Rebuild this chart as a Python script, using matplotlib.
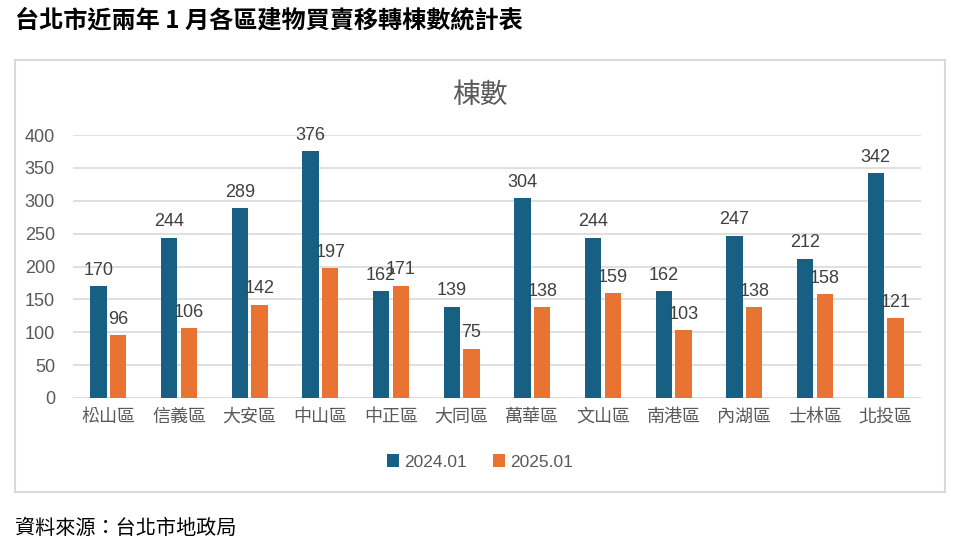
import numpy as np
import matplotlib.pyplot as plt
from matplotlib.patches import Rectangle

plt.rcParams['font.family'] = ['Noto Sans CJK TC', 'DejaVu Sans']

# 資料
districts = ['松山區', '信義區', '大安區', '中山區', '中正區', '大同區',
             '萬華區', '文山區', '南港區', '內湖區', '士林區', '北投區']
y2024 = [170, 244, 289, 376, 162, 139, 304, 244, 162, 247, 212, 342]
y2025 = [96, 106, 142, 197, 171, 75, 138, 159, 103, 138, 158, 121]
series_names = ['2024.01', '2025.01']

c_blue = '#175f83'
c_orange = '#e97333'
txt = '#595959'

fig = plt.figure(figsize=(9.64, 5.46), dpi=100)
W, H = 964, 546

# 外框
fig.patches.append(Rectangle((15 / W, 1 - 492 / H), 930 / W, 432 / H,
                             transform=fig.transFigure, fill=False,
                             edgecolor='#d9d9d9', linewidth=1.5))

ax = fig.add_axes([73 / W, 1 - 398 / H, 848 / W, 263 / H])
x = np.arange(len(districts))
bw = 0.23
off = 0.14
b1 = ax.bar(x - off, y2024, bw, color=c_blue, label=series_names[0], zorder=3)
b2 = ax.bar(x + off, y2025, bw, color=c_orange, label=series_names[1], zorder=3)

for bars in (b1, b2):
    for r in bars:
        ax.text(r.get_x() + r.get_width() / 2, r.get_height() + 11,
                f'{int(r.get_height())}', ha='center', va='bottom',
                fontsize=13, color='#404040', family='Liberation Sans')

ax.set_xlim(-0.5, len(districts) - 0.5)
ax.set_ylim(0, 400)
ax.set_yticks(range(0, 401, 50))
ax.set_yticklabels([str(v) for v in range(0, 401, 50)], family='Liberation Sans')
ax.set_xticks(x)
ax.set_xticklabels(districts)
ax.tick_params(axis='both', length=0, labelsize=13, colors=txt)
ax.tick_params(axis='x', pad=7)
ax.tick_params(axis='y', pad=13)
ax.grid(axis='y', color='#d9d9d9', linewidth=1.2, zorder=0)
for s in ax.spines.values():
    s.set_visible(False)
ax.axhline(0, color='#d9d9d9', linewidth=1.2, zorder=1)

fig.text(480 / W, 1 - 95 / H, '棟數', ha='center', va='center',
         fontsize=20, color=txt)

leg = fig.legend(handles=[b1, b2], labels=series_names, loc='center',
                 bbox_to_anchor=(480 / W, 1 - 462 / H), ncol=2, frameon=False,
                 handlelength=0.7, handleheight=0.7,
                 handletextpad=0.3, columnspacing=1.5,
                 prop={'family': 'Liberation Sans', 'size': 12.5})
for t in leg.get_texts():
    t.set_color(txt)

fig.text(15 / W, 1 - 20 / H, '台北市近兩年 1 月各區建物買賣移轉棟數統計表',
         ha='left', va='center', fontsize=17.4, fontweight='bold', color='black')
fig.text(15 / W, 1 - 528 / H, '資料來源：台北市地政局', ha='left', va='center',
         fontsize=14.5, color='black')

fig.savefig('out.png', dpi=100)
